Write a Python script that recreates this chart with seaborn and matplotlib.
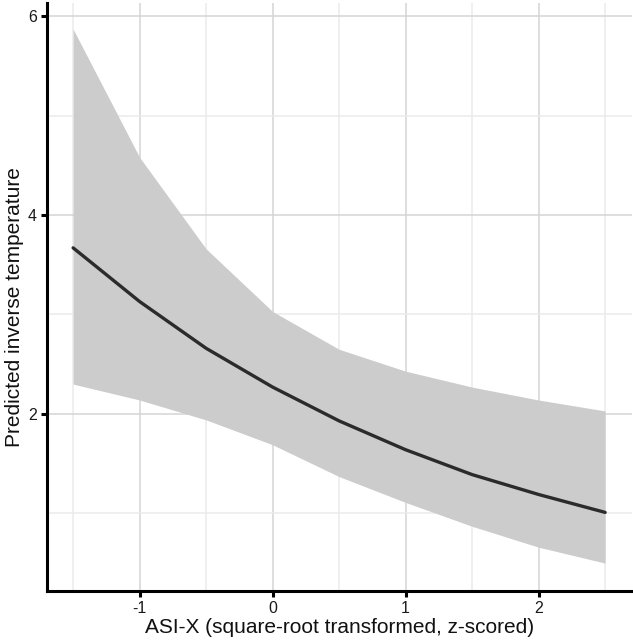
import numpy as np
import pandas as pd
import matplotlib
matplotlib.use("Agg")
import matplotlib.pyplot as plt
import seaborn as sns
from matplotlib.ticker import MultipleLocator

# predicted values
asi_x = [-1.5, -1.0, -0.5, 0.0, 0.5, 1.0, 1.5, 2.0, 2.5]
predicted = [3.67, 3.13, 2.66, 2.27, 1.93, 1.64, 1.39, 1.19, 1.01]
ci_upper = [5.87, 4.58, 3.66, 3.03, 2.65, 2.43, 2.27, 2.14, 2.03]
ci_lower = [2.30, 2.14, 1.94, 1.69, 1.37, 1.11, 0.87, 0.66, 0.50]

df = pd.DataFrame({"x": asi_x, "fit": predicted, "lo": ci_lower, "hi": ci_upper})

sns.set_theme(style="whitegrid")
plt.rcParams["font.family"] = ["Liberation Sans", "DejaVu Sans"]

fig, ax = plt.subplots(figsize=(6.33, 6.42), dpi=100)
fig.subplots_adjust(left=0.0735, right=0.998, top=0.995, bottom=0.0795)

ax.fill_between(df["x"], df["lo"], df["hi"], color="#cccccc", lw=0, zorder=2)
sns.lineplot(data=df, x="x", y="fit", ax=ax, color="#2b2b2b", lw=2.4, zorder=3)

ax.set_xlim(-1.7, 2.7)
ax.set_ylim(0.22, 6.13)
ax.xaxis.set_major_locator(MultipleLocator(1))
ax.xaxis.set_minor_locator(MultipleLocator(0.5))
ax.yaxis.set_major_locator(MultipleLocator(2))
ax.yaxis.set_minor_locator(MultipleLocator(1))
ax.set_xticks([-1, 0, 1, 2])
ax.set_xticklabels(["-1", "0", "1", "2"])

ax.grid(which="major", color="#d4d4d4", lw=1.1)
ax.grid(which="minor", color="#ebebeb", lw=1.1)
ax.set_axisbelow(True)

for side in ["top", "right"]:
    ax.spines[side].set_visible(False)
for side in ["left", "bottom"]:
    ax.spines[side].set_color("black")
    ax.spines[side].set_linewidth(2.2)

ax.tick_params(which="major", length=4, width=2.2, color="black", labelsize=11.5,
               labelcolor="#1a1a1a", left=True, bottom=True, pad=3)
ax.tick_params(which="minor", length=0)

ax.set_xlabel("ASI-X (square-root transformed, z-scored)", fontsize=15, labelpad=2, color="#111111")
ax.set_ylabel("Predicted inverse temperature", fontsize=15, color="#111111")
ax.yaxis.set_label_coords(-0.038, 0.483)

fig.savefig("out.png", dpi=100)
